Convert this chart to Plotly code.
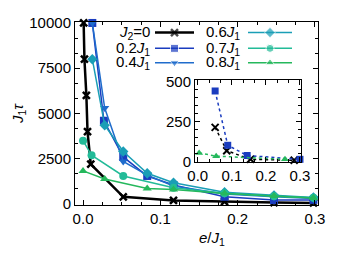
import plotly.graph_objects as go

# ---- main panel data ----
x_j0 = [0.0008, 0.0018, 0.0043, 0.0058, 0.010, 0.052, 0.117, 0.183, 0.247, 0.298]
y_j0 = [10000, 8000, 6000, 4000, 2200, 400, 200, 130, 80, 60]

x_j2 = [0.012, 0.027, 0.052, 0.083, 0.117, 0.183, 0.247, 0.298]
y_j2 = [10000, 4600, 2600, 1550, 1050, 400, 220, 230]

x_j4 = [0.012, 0.028, 0.052, 0.083, 0.117, 0.183, 0.247, 0.298]
y_j4 = [10000, 5300, 2350, 1600, 1000, 550, 400, 300]

x_j6 = [0.012, 0.028, 0.052, 0.083, 0.117, 0.183, 0.247, 0.298]
y_j6 = [8000, 4350, 2900, 1700, 1180, 650, 480, 360]

x_j7 = [0.0, 0.011, 0.052, 0.117, 0.183, 0.247, 0.298]
y_j7 = [3500, 2700, 1550, 900, 600, 430, 350]

x_j8 = [0.0, 0.028, 0.083, 0.117, 0.183, 0.247, 0.298]
y_j8 = [1830, 1380, 860, 800, 580, 450, 330]

# ---- inset data ----
xi_j0 = [0.051, 0.085, 0.155, 0.283]
yi_j0 = [212, 66, 12, 6]
xi_j2 = [0.051, 0.088, 0.145, 0.300]
yi_j2 = [440, 100, 36, 12]
xi_j8 = [0.004, 0.054, 0.256]
yi_j8 = [52, 32, 12]

# ---- tick labels ----
main_xticks = [0, 0.1, 0.2, 0.3]
main_xlabels = ["0.0", "0.1", "0.2", "0.3"]
main_yticks = [0, 2500, 5000, 7500, 10000]
main_ylabels = ["0", "2500", "5000", "7500", "10000"]
inset_yticks = [0, 250, 500]
inset_ylabels = ["0", "250", "500"]

names = ["<i>J</i><sub>2</sub>=0", "0.2<i>J</i><sub>1</sub>", "0.4<i>J</i><sub>1</sub>",
         "0.6<i>J</i><sub>1</sub>", "0.7<i>J</i><sub>1</sub>", "0.8<i>J</i><sub>1</sub>"]
colors = ["#000000", "#1a3cbf", "#1f6ccc", "#1a9eb6", "#22bb98", "#25b85c"]
symbols = ["x-thin", "square", "triangle-down", "diamond", "circle", "triangle-up"]

FONT = "Liberation Sans, Arial, sans-serif"
fig = go.Figure()


def marker_for(k, size):
    mk = dict(symbol=symbols[k], size=size, color=colors[k])
    if symbols[k] == "x-thin":
        mk["line"] = dict(width=2.5, color=colors[k])
    return mk


main = [(x_j0, y_j0), (x_j2, y_j2), (x_j4, y_j4), (x_j6, y_j6), (x_j7, y_j7), (x_j8, y_j8)]
for i, (xs, ys) in enumerate(main):
    fig.add_trace(go.Scatter(
        x=xs, y=ys, mode="lines+markers", name=names[i], showlegend=False,
        line=dict(color=colors[i], width=2.5 if i == 0 else 1.5),
        marker=marker_for(i, 7 if i == 0 else 8), cliponaxis=False,
        xaxis="x", yaxis="y"))

inset = [(xi_j0, yi_j0, 0), (xi_j2, yi_j2, 1), (xi_j8, yi_j8, 5)]
for xs, ys, k in inset:
    mk = marker_for(k, 7)
    if "line" in mk:
        mk["line"]["width"] = 2
    fig.add_trace(go.Scatter(
        x=xs, y=ys, mode="lines+markers", showlegend=False,
        line=dict(color=colors[k], width=1.5, dash="dot"),
        marker=mk, cliponaxis=False, xaxis="x2", yaxis="y2"))

# ---- gnuplot-style key (text right-aligned, sample to its right) ----
# key layout in window pixels on a hidden overlay axis
key_cols = [(152, 155, 194), (242, 248, 292)]   # text right edge, sample start, sample end
key_rows = [25, 41.5, 56.5]
annotations = []
for i in range(6):
    col, row = divmod(i, 3)
    tx, s0, s1 = key_cols[col]
    ry = key_rows[row]
    sz = 7 if i == 0 else 8
    fig.add_trace(go.Scatter(
        x=[s0, (s0 + s1) / 2, s1], y=[ry, ry, ry], mode="lines+markers",
        showlegend=False, hoverinfo="skip",
        line=dict(color=colors[i], width=2.5 if i == 0 else 1.5),
        marker=dict(marker_for(i, sz), size=[0, sz, 0]),
        cliponaxis=False, xaxis="x3", yaxis="y3"))
    annotations.append(dict(
        x=tx, y=ry, xref="x3", yref="y3", text=names[i], showarrow=False,
        xanchor="right", yanchor="middle", font=dict(size=15, family=FONT, color="black")))

annotations.append(dict(
    x=(212 - 75) / 243, y=(205 - 240) / 191, xref="paper", yref="paper",
    text="<i>e</i>/<i>J</i><sub>1</sub>",
    showarrow=False, xanchor="center", yanchor="middle",
    font=dict(size=15, family=FONT, color="black")))

axcommon = dict(showgrid=False, zeroline=False, showline=True, linecolor="black",
                linewidth=1, mirror="ticks", ticks="inside", ticklen=5,
                tickcolor="black", tickfont=dict(size=15, family=FONT, color="black"))

# the page body adds an 8px offset; plot area lands at x 75-318, y 14-205 in the window
fig.update_layout(
    width=329, height=243,
    margin=dict(l=67, r=19, t=6, b=46),
    paper_bgcolor="white", plot_bgcolor="rgba(0,0,0,0)",
    font=dict(family=FONT, size=15, color="black"),
    xaxis=dict(range=[-0.0104, 0.3039], tickvals=main_xticks, ticktext=main_xlabels,
               minor=dict(ticks="inside", ticklen=3, dtick=0.025, tick0=0, tickcolor="black"),
               **axcommon),
    yaxis=dict(range=[-53, 10053], tickvals=main_yticks, ticktext=main_ylabels,
               minor=dict(ticks="inside", ticklen=3, dtick=2500 / 3, tick0=0, tickcolor="black"),
               title=dict(text="<i>J</i><sub>1</sub><i>τ</i>", standoff=2,
                          font=dict(size=15, family=FONT)),
               **axcommon),
    xaxis2=dict(domain=[0.494, 0.930], anchor="y2", range=[-0.008, 0.303],
                tickvals=main_xticks, ticktext=main_xlabels,
                minor=dict(ticks="inside", ticklen=3, dtick=0.1 / 3, tick0=0, tickcolor="black"),
                **axcommon),
    yaxis2=dict(domain=[0.2356, 0.6806], anchor="x2", range=[-4, 506],
                tickvals=inset_yticks, ticktext=inset_ylabels,
                minor=dict(ticks="inside", ticklen=3, dtick=50, tick0=0, tickcolor="black"),
                **axcommon),
    xaxis3=dict(overlaying="x", anchor="y3", range=[75, 318], visible=False, fixedrange=True),
    yaxis3=dict(overlaying="y", anchor="x3", range=[205, 14], visible=False, fixedrange=True),
    annotations=annotations,
    showlegend=False,
)

fig.write_html("out.html")
